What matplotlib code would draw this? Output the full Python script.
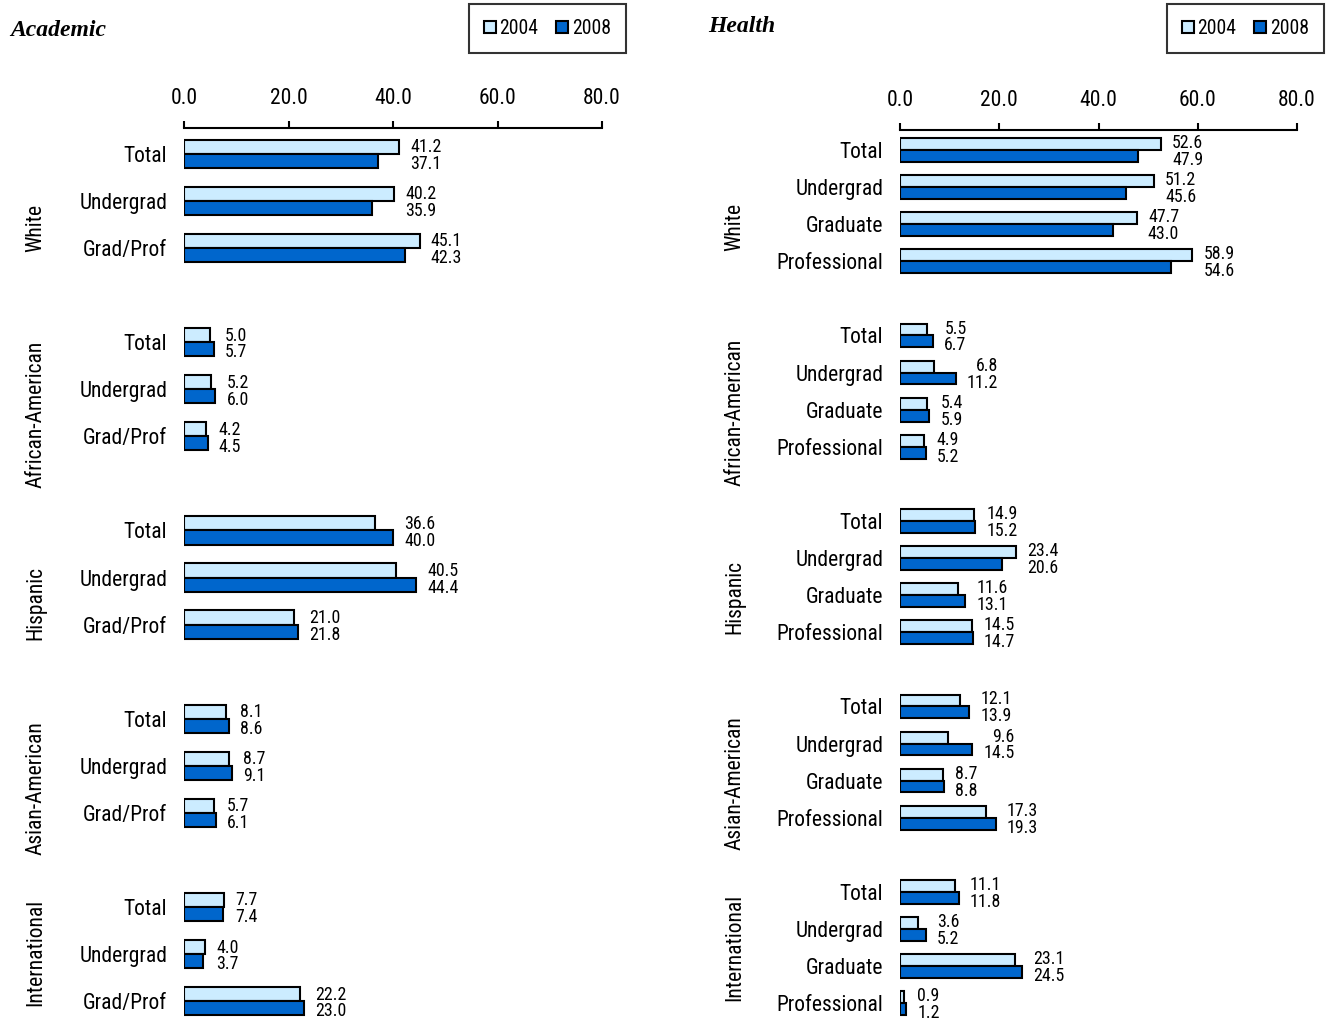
import matplotlib
matplotlib.use('Agg')
import matplotlib.pyplot as plt
from matplotlib.patches import Patch
from matplotlib import font_manager

# look for a narrow sans face, otherwise plain Liberation Sans
names = set(f.name for f in font_manager.fontManager.ttflist)
narrow = None
for cand in ['Liberation Sans Narrow', 'Arial Narrow', 'Roboto Condensed',
             'DejaVu Sans Condensed', 'Open Sans Condensed']:
    if cand in names:
        narrow = cand
        break
cond_dejavu = any(f.name == 'DejaVu Sans' and f.stretch == 'condensed'
                  for f in font_manager.fontManager.ttflist)

if narrow:
    plt.rcParams['font.family'] = [narrow, 'DejaVu Sans']
    SZ = 15.5
elif cond_dejavu:
    plt.rcParams['font.family'] = ['DejaVu Sans']
    plt.rcParams['font.stretch'] = 'condensed'
    SZ = 14
else:
    plt.rcParams['font.family'] = ['Liberation Sans', 'DejaVu Sans']
    SZ = 13.5
VSZ = SZ * 0.83

LIGHT = '#CCECFF'
DARK = '#0066CC'

groups = ['White', 'African-American', 'Hispanic', 'Asian-American', 'International']

# Academic
acad_cats = ['Total', 'Undergrad', 'Grad/Prof']
acad_2004 = [41.2, 40.2, 45.1,
             5.0, 5.2, 4.2,
             36.6, 40.5, 21.0,
             8.1, 8.7, 5.7,
             7.7, 4.0, 22.2]
acad_2008 = [37.1, 35.9, 42.3,
             5.7, 6.0, 4.5,
             40.0, 44.4, 21.8,
             8.6, 9.1, 6.1,
             7.4, 3.7, 23.0]

# Health
health_cats = ['Total', 'Undergrad', 'Graduate', 'Professional']
health_2004 = [52.6, 51.2, 47.7, 58.9,
               5.5, 6.8, 5.4, 4.9,
               14.9, 23.4, 11.6, 14.5,
               12.1, 9.6, 8.7, 17.3,
               11.1, 3.6, 23.1, 0.9]
health_2008 = [47.9, 45.6, 43.0, 54.6,
               6.7, 11.2, 5.9, 5.2,
               15.2, 20.6, 13.1, 14.7,
               13.9, 14.5, 8.8, 19.3,
               11.8, 5.2, 24.5, 1.2]

xticks = [0, 20, 40, 60, 80]


def draw_panel(ax, cats, v04, v08, bh, group_lab_pos, lab_x):
    n = len(cats)
    pos = []
    labels = []
    for g in range(len(groups)):
        for i in range(n):
            pos.append(g * (n + 1) + i)
            labels.append(cats[i])
    ax.barh([p - bh / 2 for p in pos], v04, height=bh, color=LIGHT,
            edgecolor='black', linewidth=1.5)
    ax.barh([p + bh / 2 for p in pos], v08, height=bh, color=DARK,
            edgecolor='black', linewidth=1.5)
    for p, a, b in zip(pos, v04, v08):
        ax.annotate('%.1f\n%.1f' % (a, b), xy=(max(a, b), p + 0.04),
                    xytext=(8, 0), textcoords='offset points',
                    ha='left', va='center', multialignment='right',
                    fontsize=VSZ, linespacing=0.92)
    ax.set_yticks(pos)
    ax.set_yticklabels(labels, fontsize=SZ)
    ax.set_ylim(len(groups) * (n + 1) - 1 - 0.6, -0.55)
    ax.set_xlim(0, 80)
    ax.set_xticks(xticks)
    ax.set_xticklabels(['%.1f' % t for t in xticks], fontsize=SZ)
    ax.xaxis.tick_top()
    ax.tick_params(axis='x', direction='out', length=5, width=1.5, pad=9)
    ax.tick_params(axis='y', length=0, pad=12)
    for s in ['left', 'right', 'bottom']:
        ax.spines[s].set_visible(False)
    ax.spines['top'].set_linewidth(1.5)
    for g, yp in zip(groups, group_lab_pos):
        ax.text(lab_x, yp, g, rotation=90, ha='center', va='center',
                fontsize=SZ, transform=ax.get_yaxis_transform())


fig = plt.figure(figsize=(13.28, 10.23), dpi=100)

ax1 = fig.add_axes([184 / 1328, 3 / 1023, 418 / 1328, 892 / 1023])
draw_panel(ax1, acad_cats, acad_2004, acad_2008, 0.3,
           [1.57, 5.53, 9.55, 13.47, 16.97], -0.355)

ax2 = fig.add_axes([900 / 1328, 5 / 1023, 397 / 1328, 888 / 1023])
draw_panel(ax2, health_cats, health_2004, health_2008, 0.32,
           [2.08, 7.06, 12.05, 17.06, 21.5], -0.415)
ax2.set_ylim(23.4, -0.54)

fig.text(10 / 1328, 1 - 30 / 1023, 'Academic', fontsize=17, fontweight='bold',
         style='italic', family='Liberation Serif', ha='left', va='center')
fig.text(708 / 1328, 1 - 26 / 1023, 'Health', fontsize=17, fontweight='bold',
         style='italic', family='Liberation Serif', ha='left', va='center')

handles = [Patch(facecolor=LIGHT, edgecolor='black', linewidth=1.5, label='2004'),
           Patch(facecolor=DARK, edgecolor='black', linewidth=1.5, label='2008')]
for right in [626, 1324]:
    leg = fig.legend(handles=handles, ncol=2, loc='upper right',
                     bbox_to_anchor=(right / 1328, 1 - 4 / 1023),
                     fontsize=SZ * 0.92, frameon=True, fancybox=False,
                     handlelength=0.6, handleheight=0.6, handletextpad=0.2,
                     columnspacing=0.9, borderpad=0.75, borderaxespad=0)
    leg.get_frame().set_edgecolor('black')
    leg.get_frame().set_linewidth(1.5)

fig.savefig('out.png', dpi=100)
